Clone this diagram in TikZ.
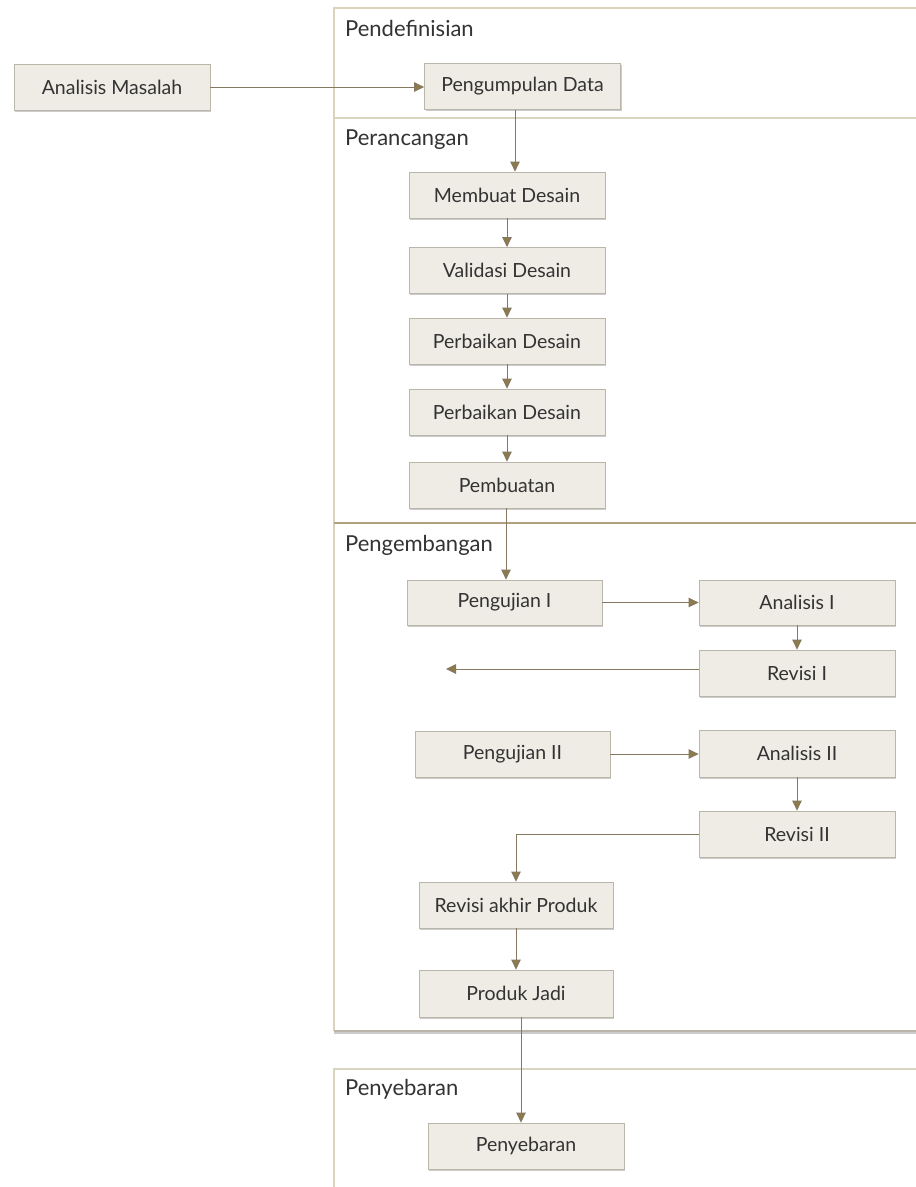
\documentclass[tikz,border=0pt]{standalone}
\usepackage{fontspec}
\setmainfont{Lato}
\usetikzlibrary{arrows.meta,shadows}
\definecolor{boxfill}{HTML}{EEECE5}
\definecolor{boxdraw}{HTML}{BAB6AA}
\definecolor{arrowc}{HTML}{857860}
\definecolor{headc}{HTML}{8E7B4B}
\definecolor{panelc}{HTML}{D8D4BE}
\definecolor{paneldark}{HTML}{B3A07E}
\definecolor{panelbot}{HTML}{B8B5A8}
\definecolor{txt}{HTML}{333333}
\begin{document}
\begin{tikzpicture}[x=1pt,y=-1pt,
  box/.style={draw=boxdraw, line width=0.8pt, fill=boxfill, minimum width=196pt, minimum height=46pt, inner sep=0pt,
    font=\fontsize{19.5}{22}\selectfont, text=txt,
    drop shadow={shadow xshift=1.2pt, shadow yshift=-1.6pt, fill=black!45, opacity=0.45}},
  arr/.style={draw=arrowc, line width=1pt, -{Triangle[width=9.5pt,length=10pt,fill=headc]}},
  lbl/.style={anchor=west, inner sep=0pt, font=\fontsize{22}{25}\selectfont, text=txt},
  pline/.style={draw=panelc, line width=1.2pt}
]
\useasboundingbox (0,0) rectangle (916,1187);
\fill[white] (0,0) rectangle (916,1187);
\clip (0,0) rectangle (916,1187);

% panels
\draw[pline] (920,8) -- (334,8) -- (334,1031);
\draw[pline] (334,118) -- (920,118);
\draw[draw=paneldark, line width=1.3pt] (334,523) -- (920,523);
\draw[draw=black!20, line width=1.5pt] (334,1033) -- (920,1033);
\draw[draw=panelbot, line width=1.2pt] (334,1031) -- (920,1031);
\draw[pline] (920,1069) -- (334,1069) -- (334,1190);

% panel labels
\node[lbl] (l1) at (345,28) {Pendefinisian};
\node[lbl] (l2) at (345,140) {Perancangan};
\node[lbl] (l3) at (345,545) {Pengembangan};
\node[lbl] (l4) at (345,1089) {Penyebaran};

% boxes
\node[box] (am) at (112,87) {Analisis Masalah};
\node[box] (pd) at (522.5,86.5) {Pengumpulan Data};
\node[box] (md) at (507,195) {Membuat Desain};
\node[box] (vd) at (507,270.5) {Validasi Desain};
\node[box] (pb1) at (507,341) {Perbaikan Desain};
\node[box] (pb2) at (507,412) {Perbaikan Desain};
\node[box] (pm) at (507,485) {Pembuatan};
\node[box, minimum width=195pt, minimum height=45pt] (pu1) at (504.5,602.5) {Pengujian I};
\node[box, minimum height=45pt] (an1) at (797,602.5) {Analisis I};
\node[box] (rv1) at (797,673) {Revisi I};
\node[box, minimum width=195pt] (pu2) at (512.5,754) {Pengujian II};
\node[box, minimum height=47pt] (an2) at (797,753.5) {Analisis II};
\node[box] (rv2) at (797,834) {Revisi II};
\node[box, minimum width=194pt] (rap) at (516,905) {Revisi akhir Produk};
\node[box, minimum width=194pt, minimum height=47pt] (pj) at (516,993.5) {Produk Jadi};
\node[box] (py) at (526,1146) {Penyebaran};

% helper coordinates
\coordinate (c1) at (515,0);
\coordinate (c2) at (506,0);
\coordinate (c3) at (521,0);
\coordinate (r1end) at (446,669);

% connectors
\draw[arr] (am.east) -- (am.east -| pd.west);
\draw[arr] (pd.south -| c1) -- (md.north -| c1);
\draw[arr] (md) -- (vd);
\draw[arr] (vd) -- (pb1);
\draw[arr] (pb1) -- (pb2);
\draw[arr] (pb2) -- (pm);
\draw[arr] (pm.south -| c2) -- (pu1.north -| c2);
\draw[arr] (pu1.east) -- (pu1.east -| an1.west);
\draw[arr] (an1) -- (rv1);
\draw[arr] (rv1.west |- r1end) -- (r1end);
\draw[arr] (pu2.east) -- (pu2.east -| an2.west);
\draw[arr] (an2) -- (rv2);
\draw[arr] (rv2.west) -| (rap.north);
\draw[arr] (rap) -- (pj);
\draw[arr] (pj.south -| c3) -- (py.north -| c3);
\end{tikzpicture}
\end{document}
